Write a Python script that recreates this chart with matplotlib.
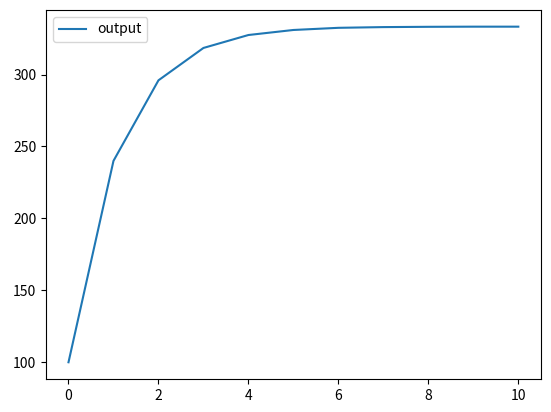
import matplotlib
matplotlib.use("Agg")
import matplotlib.pyplot as plt

plt.rcParams['font.family'] = ['Noto Sans CJK JP', 'DejaVu Sans']

steps = [0, 1, 2, 3, 4, 5, 6, 7, 8, 9, 10]
output = [100, 240, 296, 318.5, 327.5, 331, 332.5, 333, 333.2, 333.3, 333.3]

fig = plt.figure(figsize=(5.51, 4.12), dpi=100)
ax = fig.add_axes([0.0835, 0.080, 0.898, 0.896])
ax.plot(steps, output, label="output")
ax.legend(loc="upper left")

fig.savefig("out.png", dpi=100)
